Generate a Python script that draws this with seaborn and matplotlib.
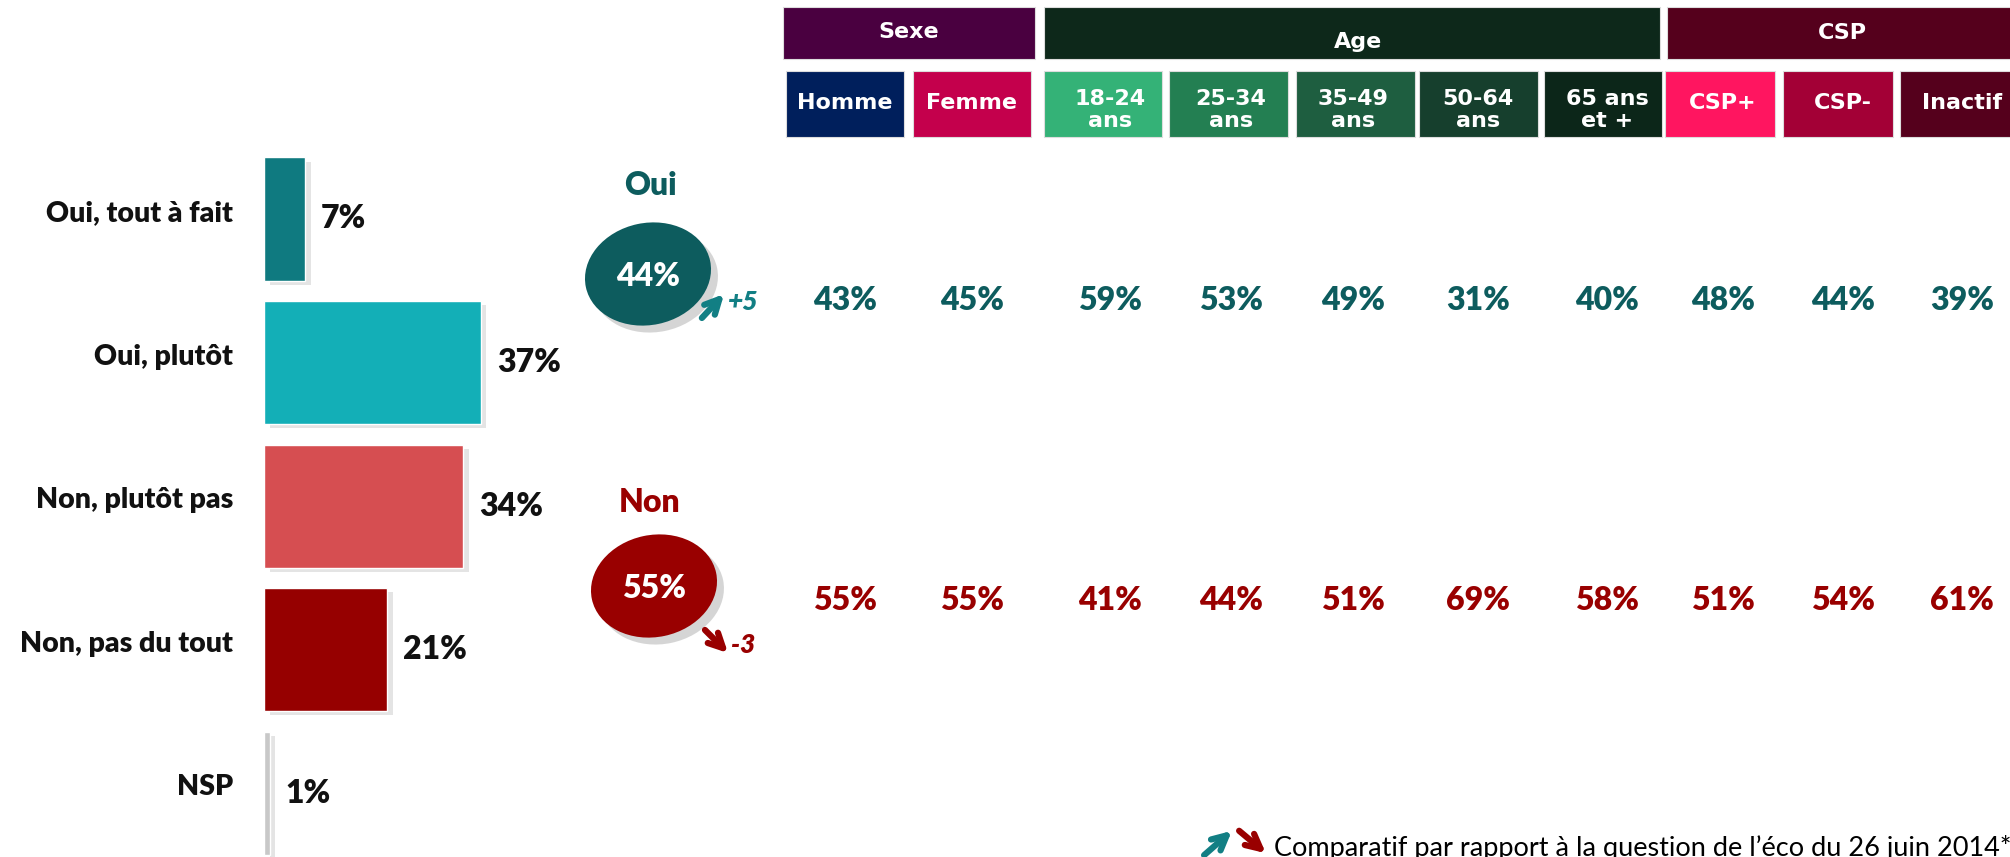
import matplotlib
matplotlib.use("Agg")
import matplotlib.pyplot as plt
import matplotlib.patheffects as pe
from matplotlib.patches import Rectangle, Ellipse
import seaborn as sns
import pandas as pd

# answers to the question, overall
answers = ["Oui, tout à fait", "Oui, plutôt", "Non, plutôt pas", "Non, pas du tout", "NSP"]
shares = [7, 37, 34, 21, 1]
bar_colors = ["#0F7A80", "#13AFB7", "#D64E51", "#960000", "#C8C8C8"]

# totals and change vs previous wave
oui_total = 44
non_total = 55
oui_change = "+5"
non_change = "-3"

# breakdown by segment
groups = ["Sexe", "Age", "CSP"]
segments = ["Homme", "Femme", "18-24\nans", "25-34\nans", "35-49\nans",
            "50-64\nans", "65 ans\net +", "CSP+", "CSP-", "Inactif"]
oui_by_segment = [43, 45, 59, 53, 49, 31, 40, 48, 44, 39]
non_by_segment = [55, 55, 41, 44, 51, 69, 58, 51, 54, 61]

footnote = "Comparatif par rapport à la question de l’éco du 26 juin 2014*"

# layout (pixels, 2010x857 canvas)
W, H = 2010, 857
group_boxes = [(783, 1035, "#4A0040", 909, 32), (1044, 1660, "#0D281A", 1358, 42),
               (1667, 2020, "#55001C", 1842, 33)]
seg_boxes = [(786, 904), (913, 1031), (1044, 1162), (1169, 1288), (1296, 1415),
             (1419, 1538), (1544, 1662), (1665, 1775), (1783, 1893), (1900, 2020)]
seg_colors = ["#001F5C", "#C4004C", "#34B277", "#237F52", "#1E5E40",
              "#163F2D", "#0C2619", "#FF1560", "#A30036", "#55001C"]
col_x = [845, 972, 1110, 1231, 1353, 1478, 1607, 1723, 1843, 1962]
teal = "#0D5C5E"
red = "#990000"
BOLD = "heavy"

sns.set_theme(style="white")
plt.rcParams["font.family"] = ["Lato", "DejaVu Sans"]

fig = plt.figure(figsize=(W / 100, H / 100), dpi=100)
fig.patch.set_facecolor("white")

# overlay axes in pixel coordinates for the table part
ax = fig.add_axes([0, 0, 1, 1])
ax.set_xlim(0, W)
ax.set_ylim(H, 0)
ax.axis("off")

# bar chart
px_per_pct = 5.86
bar_top, row_step = 147.2, 143.6
ax_bar = fig.add_axes([264 / W, 0, 40 * px_per_pct / W, 1 - bar_top / H])
df = pd.DataFrame({"answer": answers, "share": shares})
sns.barplot(data=df, x="share", y="answer", hue="answer", palette=bar_colors,
            saturation=1, width=0.857, legend=False, orient="h", ax=ax_bar)
ax_bar.set_xlim(0, 40)
ax_bar.set_ylim((H - bar_top) / row_step - 0.5, -0.5)
ax_bar.axis("off")
for p in ax_bar.patches:
    p.set_path_effects([pe.SimplePatchShadow(offset=(4, -3), shadow_rgbFace="#888888", alpha=0.22),
                        pe.Normal()])
for i, (lab, v) in enumerate(zip(answers, shares)):
    ax_bar.annotate(lab, xy=(0, i), xytext=(-31 * 0.72, 6 * 0.72), textcoords="offset points",
                    ha="right", va="center", fontsize=20.5, fontweight=BOLD, color="#111111",
                    annotation_clip=False)
    ax_bar.annotate(f"{v}%", xy=(v, i), xytext=(16 * 0.72, 0), textcoords="offset points",
                    ha="left", va="center", fontsize=23, fontweight=BOLD, color="#111111",
                    annotation_clip=False)

# header boxes
hdr_font = ["DejaVu Sans"]
for (x0, x1, c, tx, ty), name in zip(group_boxes, groups):
    ax.add_patch(Rectangle((x0, 7), x1 - x0, 52, facecolor=c, edgecolor="#dddddd", lw=0.8))
    ax.text(tx, ty, name, ha="center", va="center", color="white", fontsize=16,
            fontweight="bold", family=hdr_font)
for (x0, x1), c, seg, cx in zip(seg_boxes, seg_colors, segments, col_x):
    ax.add_patch(Rectangle((x0, 71), x1 - x0, 66, facecolor=c, edgecolor="#dddddd", lw=0.8))
    ty = 110 if "\n" in seg else 103
    ax.text(cx, ty, seg, ha="center", va="center", color="white", fontsize=16,
            fontweight="bold", family=hdr_font, linespacing=1.1)

# segment values
for cx, o, n in zip(col_x, oui_by_segment, non_by_segment):
    ax.text(cx, 301, f"{o}%", ha="center", va="center", color=teal, fontsize=23, fontweight=BOLD)
    ax.text(cx, 600, f"{n}%", ha="center", va="center", color=red, fontsize=23, fontweight=BOLD)

# totals in ellipses
shadow = [pe.SimplePatchShadow(offset=(5, -5), shadow_rgbFace="#777777", alpha=0.3), pe.Normal()]
for (cx, cy), title, ty, total, col in [((648, 274), "Oui", 185, oui_total, teal),
                                         ((654, 586), "Non", 502, non_total, red)]:
    e = Ellipse((cx, cy), 127, 102, angle=-12, facecolor=col, edgecolor="none")
    e.set_path_effects(shadow)
    ax.add_patch(e)
    ax.text(650, ty, title, ha="center", va="center", color=col, fontsize=23, fontweight=BOLD)
    ax.text(cx, cy + 2, f"{total}%", ha="center", va="center", color="white", fontsize=23,
            fontweight=BOLD)

# change arrows
arrow_kw = dict(arrowstyle="->", lw=4.5, mutation_scale=26)
ax.annotate("", xy=(726, 292), xytext=(700, 320), arrowprops=dict(color="#127F84", **arrow_kw))
ax.text(728, 302, oui_change, ha="left", va="center", color="#127F84", fontsize=19,
        fontweight=BOLD, style="italic")
ax.annotate("", xy=(730, 655), xytext=(703, 628), arrowprops=dict(color=red, **arrow_kw))
ax.text(731, 645, non_change, ha="left", va="center", color=red, fontsize=19,
        fontweight=BOLD, style="italic")

# footnote
ax.annotate("", xy=(1234, 829), xytext=(1202, 857),
            arrowprops=dict(color="#127F84", **arrow_kw), annotation_clip=False)
ax.annotate("", xy=(1268, 855), xytext=(1237, 829),
            arrowprops=dict(color=red, **arrow_kw), annotation_clip=False)
ax.text(1274, 856, footnote, ha="left", va="baseline", color="black", fontsize=19.5)

fig.savefig("out.png", dpi=100, facecolor="white")
